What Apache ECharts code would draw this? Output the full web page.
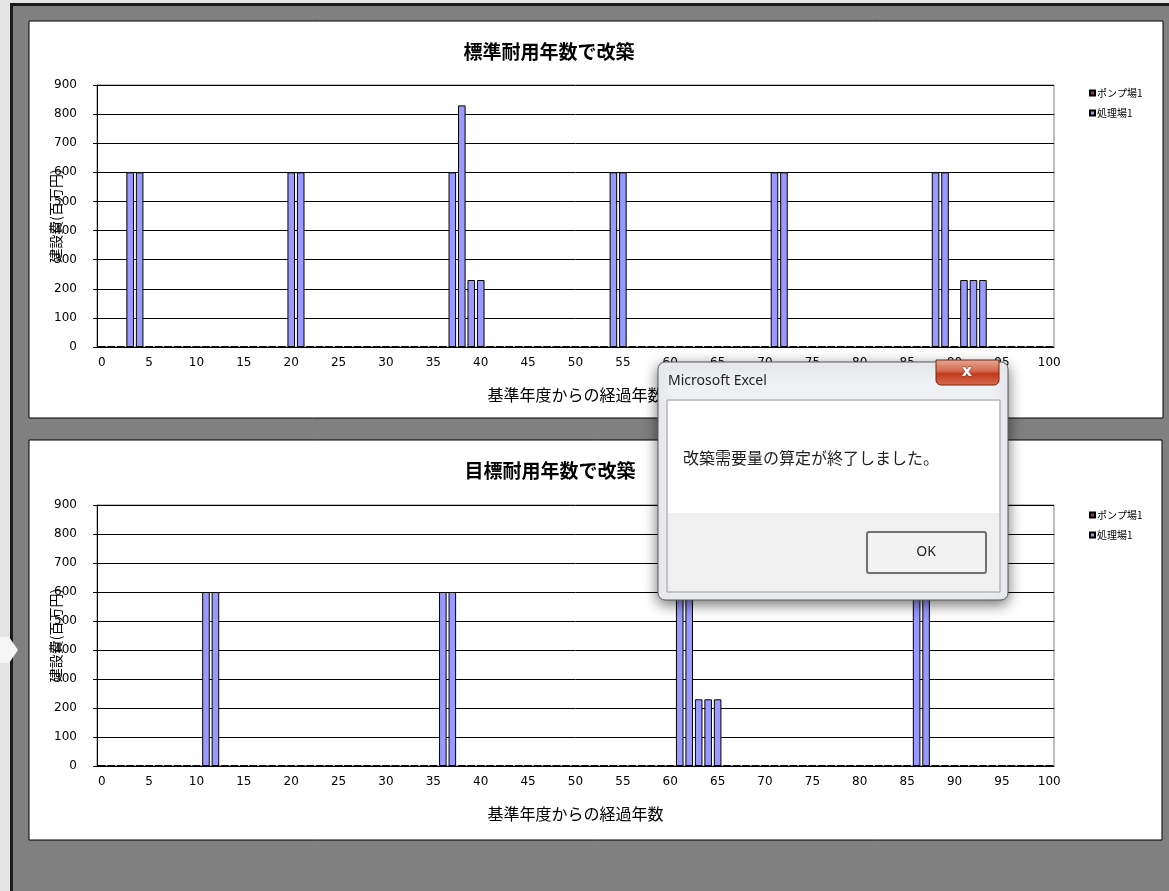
<!DOCTYPE html>
<html>
<head>
    <meta charset="utf-8">
    <title>改築需要量</title>
    <script type="text/javascript" src="https://cdn.jsdelivr.net/npm/echarts@6/dist/echarts.min.js"></script>
    <style>
        html, body { margin: 0; padding: 0; background: #e4e4e4; }
        #main { width: 1169px; height: 891px; }
    </style>
</head>

<body>
    <div id="main"></div>
    <script type="text/javascript">
    // years since base year (category axis 0..100)
    var yearCount = 101;

    // 標準耐用年数で改築 : 処理場1
    var topShoriYears = [3, 4, 20, 21, 37, 38, 39, 40, 54, 55, 71, 72, 88, 89, 91, 92, 93];
    var topShoriCosts = [600, 600, 600, 600, 600, 830, 230, 230, 600, 600, 600, 600, 600, 600, 230, 230, 230];
    // ポンプ場1 : nothing visible
    var topPumpYears = [];
    var topPumpCosts = [];

    // 目標耐用年数で改築 : 処理場1
    var botShoriYears = [11, 12, 36, 37, 61, 62, 63, 64, 65, 86, 87];
    var botShoriCosts = [600, 600, 600, 600, 600, 600, 230, 230, 230, 600, 600];
    var botPumpYears = [];
    var botPumpCosts = [];

    var yTicks = [0, 100, 200, 300, 400, 500, 600, 700, 800, 900];

    var seriesNames = ['ポンプ場1', '処理場1'];
    var titles = ['標準耐用年数で改築', '目標耐用年数で改築'];
    var xName = '基準年度からの経過年数';
    var yName = '建設費(百万円)';

    var categories = [];
    for (var i = 0; i < yearCount; i++) {
        categories.push(String(i));
    }

    function spread(years, costs) {
        var arr = [];
        for (var i = 0; i < yearCount; i++) arr.push(0);
        for (var j = 0; j < years.length; j++) arr[years[j]] = costs[j];
        return arr;
    }

    var numFont = 'DejaVu Sans';
    var jpFont = '"MS PGothic", "Noto Sans CJK JP", sans-serif';

    function makeX(gridIndex) {
        return {
            type: 'category',
            gridIndex: gridIndex,
            data: categories,
            boundaryGap: true,
            name: xName,
            nameLocation: 'middle',
            nameGap: 40,
            nameMoveOverlap: false,
            nameTextStyle: { fontSize: 16, color: '#000', fontFamily: jpFont },
            axisLine: { lineStyle: { color: '#000', width: 1 } },
            axisTick: { interval: 0, inside: true, length: 4, lineStyle: { color: '#000' } },
            axisLabel: { interval: 4, color: '#000', fontSize: 12, fontFamily: numFont, margin: 10 },
            splitLine: { show: false }
        };
    }

    function makeY(gridIndex) {
        return {
            type: 'value',
            gridIndex: gridIndex,
            min: yTicks[0],
            max: yTicks[yTicks.length - 1],
            interval: 100,
            name: yName,
            nameLocation: 'middle',
            nameRotate: 90,
            nameGap: 34,
            nameMoveOverlap: false,
            nameTextStyle: { fontSize: 14, color: '#000', fontFamily: jpFont },
            axisLine: { show: true, lineStyle: { color: '#000', width: 1 } },
            axisTick: { show: true, length: 4, lineStyle: { color: '#000' } },
            axisLabel: { color: '#000', fontSize: 12, fontFamily: numFont, margin: 20 },
            splitLine: { show: true, lineStyle: { color: '#000', width: 1 } }
        };
    }

    var pumpStyle = { color: '#993366', borderColor: '#000', borderWidth: 1 };
    var shoriStyle = { color: '#9999ff', borderColor: '#000', borderWidth: 1 };

    function makeSeries(idx, pump, shori) {
        return [{
            name: seriesNames[0],
            type: 'bar',
            xAxisIndex: idx,
            yAxisIndex: idx,
            stack: 'g' + idx,
            barWidth: '80%',
            itemStyle: pumpStyle,
            data: pump
        }, {
            name: seriesNames[1],
            type: 'bar',
            xAxisIndex: idx,
            yAxisIndex: idx,
            stack: 'g' + idx,
            barWidth: '80%',
            itemStyle: shoriStyle,
            data: shori
        }];
    }

    function makeLegend(top) {
        return {
            orient: 'vertical',
            left: 1084,
            top: top,
            icon: 'rect',
            itemWidth: 5,
            itemHeight: 5,
            itemGap: 8,
            textStyle: { fontSize: 10, color: '#000', fontFamily: jpFont, lineHeight: 12, padding: [0, 0, 0, -3] },
            data: seriesNames
        };
    }

    var btnRed = new echarts.graphic.LinearGradient(0, 0, 0, 1, [
        { offset: 0, color: '#e9a896' },
        { offset: 0.45, color: '#d5664c' },
        { offset: 0.55, color: '#c23a20' },
        { offset: 1, color: '#d86a4e' }
    ]);

    var backdrop = [
        { type: 'rect', z: -20, shape: { x: 10, y: 3, width: 1159, height: 888 }, style: { fill: '#1c1c1c' } },
        { type: 'rect', z: -19, shape: { x: 13, y: 6, width: 1156, height: 885 }, style: { fill: '#808080' } },
        { type: 'rect', z: -18, shape: { x: 29, y: 21, width: 1134, height: 397 }, style: { fill: '#fff', stroke: '#000', lineWidth: 1 } },
        { type: 'rect', z: -18, shape: { x: 29, y: 440, width: 1133, height: 400 }, style: { fill: '#fff', stroke: '#000', lineWidth: 1 } },
        { type: 'polygon', z: -17, shape: { points: [[0, 637], [9, 637], [18, 650], [9, 663], [0, 663]] }, style: { fill: '#f6f6f6' } }
    ];

    var dialog = {
        type: 'group',
        z: 100,
        children: [
            { type: 'rect', z: 100, shape: { x: 658, y: 362, width: 350, height: 238, r: 7 },
              style: { fill: '#eef0f3', stroke: '#5a5a5a', lineWidth: 1, shadowBlur: 14, shadowOffsetY: 4, shadowColor: 'rgba(0,0,0,0.55)' } },
            { type: 'text', z: 101, x: 668, y: 381,
              style: { text: 'Microsoft Excel', font: '14px "Noto Sans", sans-serif', fill: '#1e1e1e', textVerticalAlign: 'middle' } },
            { type: 'rect', z: 101, shape: { x: 936, y: 360, width: 63, height: 25, r: [0, 0, 5, 5] },
              style: { fill: btnRed, stroke: '#6e2618', lineWidth: 1 } },
            { type: 'text', z: 102, x: 967, y: 372,
              style: { text: 'x', font: 'bold 16px "DejaVu Sans", sans-serif', fill: '#fff', stroke: '#8a3a2a', lineWidth: 1, textAlign: 'center', textVerticalAlign: 'middle' } },
            { type: 'rect', z: 101, shape: { x: 667, y: 400, width: 333, height: 192 },
              style: { fill: '#f0f0f0', stroke: '#9a9a9a', lineWidth: 1 } },
            { type: 'rect', z: 102, shape: { x: 668, y: 401, width: 331, height: 112 },
              style: { fill: '#ffffff' } },
            { type: 'text', z: 103, x: 683, y: 458,
              style: { text: '改築需要量の算定が終了しました。', font: '16px "Noto Sans CJK JP", sans-serif', fill: '#1e1e1e', textVerticalAlign: 'middle' } },
            { type: 'rect', z: 102, shape: { x: 867, y: 532, width: 119, height: 41, r: 2 },
              style: { fill: '#f2f2f2', stroke: '#707070', lineWidth: 2 } },
            { type: 'text', z: 103, x: 926, y: 552,
              style: { text: 'OK', font: '14px "Noto Sans", sans-serif', fill: '#1e1e1e', textAlign: 'center', textVerticalAlign: 'middle' } }
        ]
    };

    var myChart = echarts.init(document.getElementById('main'), null, { renderer: 'canvas' });

    var option = {
        animation: false,
        backgroundColor: '#e4e4e4',
        title: [{
            text: titles[0],
            left: 544,
            top: 37,
            textAlign: 'center',
            textStyle: { fontSize: 19, fontWeight: 'bold', color: '#000', fontFamily: jpFont }
        }, {
            text: titles[1],
            left: 545,
            top: 456,
            textAlign: 'center',
            textStyle: { fontSize: 19, fontWeight: 'bold', color: '#000', fontFamily: jpFont }
        }],
        legend: [makeLegend(82), makeLegend(504)],
        grid: [{
            left: 97, right: 115, top: 85, height: 262,
            show: true, borderColor: '#808080', borderWidth: 1, backgroundColor: 'transparent'
        }, {
            left: 97, right: 115, top: 505, height: 261,
            show: true, borderColor: '#808080', borderWidth: 1, backgroundColor: 'transparent'
        }],
        xAxis: [makeX(0), makeX(1)],
        yAxis: [makeY(0), makeY(1)],
        series: makeSeries(0, spread(topPumpYears, topPumpCosts), spread(topShoriYears, topShoriCosts))
            .concat(makeSeries(1, spread(botPumpYears, botPumpCosts), spread(botShoriYears, botShoriCosts))),
        graphic: backdrop.concat([dialog])
    };

    myChart.setOption(option);
    </script>
</body>
</html>
